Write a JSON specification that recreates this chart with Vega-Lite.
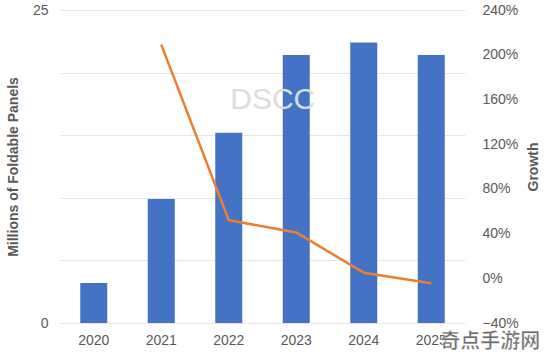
{
  "$schema": "https://vega.github.io/schema/vega-lite/v6.json",
  "width": 405,
  "height": 313,
  "autosize": {"type": "none"},
  "padding": {"left": 60, "top": 10, "right": 85, "bottom": 32},
  "background": "white",
  "config": {
    "view": {"stroke": null},
    "font": "Liberation Sans",
    "axis": {"labelColor": "#595959", "titleColor": "#595959", "labelFont": "Liberation Sans", "titleFont": "Liberation Sans"}
  },
  "data": {
    "values": [
      {"year": "2020", "panels": 3.2, "growth": null},
      {"year": "2021", "panels": 9.9, "growth": 2.09},
      {"year": "2022", "panels": 15.2, "growth": 0.52},
      {"year": "2023", "panels": 21.4, "growth": 0.41},
      {"year": "2024", "panels": 22.4, "growth": 0.05},
      {"year": "2025", "panels": 21.4, "growth": -0.045}
    ]
  },
  "encoding": {
    "x": {
      "field": "year", "type": "ordinal",
      "scale": {"paddingInner": 0.6, "paddingOuter": 0.3},
      "axis": {"title": null, "labelAngle": 0, "labelFontSize": 14, "ticks": false, "domain": false, "labelPadding": 10}
    }
  },
  "layer": [
    {
      "mark": {"type": "bar", "color": "#4472C4"},
      "encoding": {
        "y": {
          "field": "panels", "type": "quantitative",
          "scale": {"domain": [0, 25]},
          "axis": {
            "title": "Millions of Foldable Panels", "titleFontSize": 14, "titleFontWeight": "bold",
            "values": [0, 5, 10, 15, 20, 25],
            "labelExpr": "datum.value == 0 || datum.value == 25 ? datum.label : ''",
            "labelFontSize": 14, "ticks": false, "domain": false,
            "gridColor": "#e6e6e6", "labelPadding": 12, "titlePadding": 12
          }
        }
      }
    },
    {
      "mark": {"type": "line", "color": "#ED7D31", "strokeWidth": 2.5},
      "encoding": {
        "y": {
          "field": "growth", "type": "quantitative",
          "scale": {"domain": [-0.4, 2.4]},
          "axis": {
            "orient": "right", "title": "Growth", "titleFontSize": 14, "titleFontWeight": "bold",
            "titleAngle": -90, "values": [-0.4, 0, 0.4, 0.8, 1.2, 1.6, 2.0, 2.4], "format": ".0%",
            "labelAlign": "left", "labelFontSize": 14, "ticks": false, "domain": false, "grid": false,
            "labelPadding": 17, "titlePadding": 22
          }
        }
      }
    },
    {
      "data": {"values": [{"label": "DSCC", "year": "2022", "v": 17.8}]},
      "mark": {"type": "text", "fontSize": 30, "color": "#dcdcdc", "dx": 44, "font": "Liberation Sans"},
      "encoding": {
        "x": {"field": "year", "type": "ordinal"},
        "y": {"field": "v", "type": "quantitative", "scale": {"domain": [0, 25]}, "axis": null},
        "text": {"field": "label"}
      }
    },
    {
      "data": {"values": [{"label": "奇点手游网", "year": "2025", "v": -1.5}]},
      "mark": {"type": "text", "fontSize": 20, "fontWeight": "bold", "color": "#6e6e6e", "dx": 59, "font": "Noto Sans CJK SC", "stroke": "white", "strokeWidth": 0.5},
      "encoding": {
        "x": {"field": "year", "type": "ordinal"},
        "y": {"field": "v", "type": "quantitative", "scale": {"domain": [0, 25]}, "axis": null},
        "text": {"field": "label"}
      }
    }
  ],
  "resolve": {"scale": {"y": "independent"}}
}
